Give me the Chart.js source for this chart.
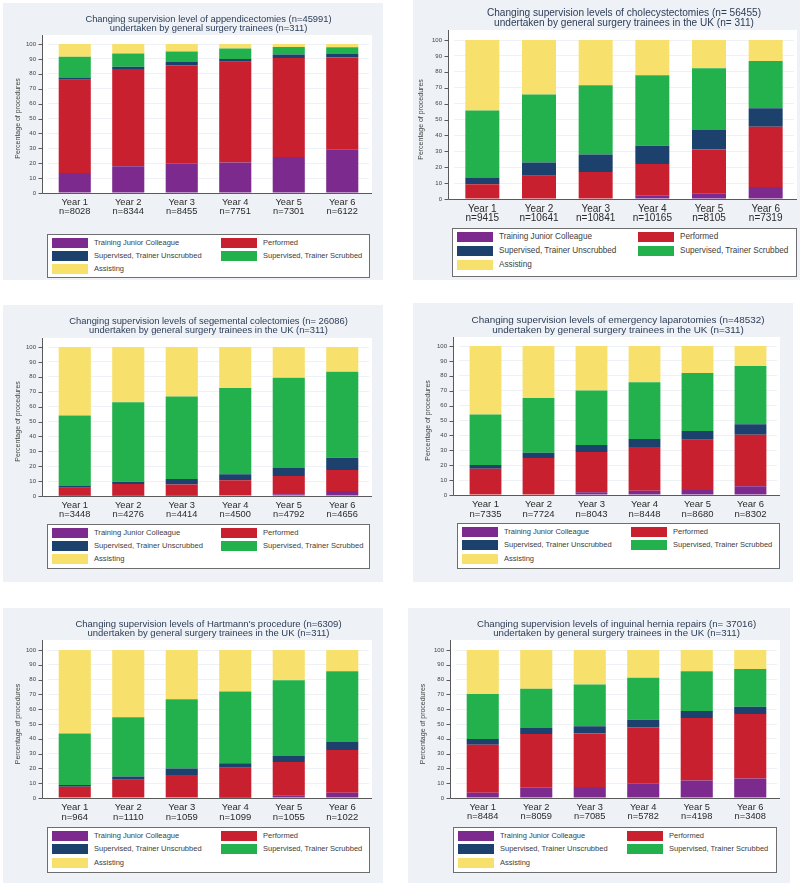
<!DOCTYPE html>
<html>
<head>
<meta charset="utf-8">
<script src="https://cdn.jsdelivr.net/npm/chart.js@4.4.1/dist/chart.umd.min.js"></script>
<style>
  body { margin: 0; width: 800px; height: 888px; background: #fff; position: relative; overflow: hidden;
         font-family: "Liberation Sans", Arial, sans-serif; }
  .panel, .plotbg, .legend, canvas { position: absolute; }
  .panel { background: #eef1f5; }
  .plotbg { background: #fff; }
  .legend { background: #fff; border: 1px solid #6e6e6e; box-sizing: border-box; }
  .sw { position: absolute; width: 36px; height: 10px; }
  .lt { position: absolute; color: #404040; line-height: 10px; white-space: nowrap; }
</style>
</head>
<body>
<script>
const seriesNames = ['Training Junior Colleague', 'Performed', 'Supervised, Trainer Unscrubbed',
                     'Supervised, Trainer Scrubbed', 'Assisting'];
const seriesColors = ['#7d2a8e', '#c9202f', '#1b416c', '#22b14c', '#f8e06c'];
const years = ['Year 1', 'Year 2', 'Year 3', 'Year 4', 'Year 5', 'Year 6'];

// each values table: one row per series (same order as seriesNames), one column per year, in %

// appendicectomies
const appTitle = ['Changing supervision level of appendicectomies (n=45991)',
                  'undertaken by general surgery trainees (n=311)'];
const appN = [8028, 8344, 8455, 7751, 7301, 6122];
const appValues = [
  [13.4, 17.9, 19.7, 20.4, 24.2, 29.3],
  [62.6, 65.3, 66.0, 67.7, 66.4, 61.7],
  [1.6, 1.6, 2.2, 1.8, 2.4, 2.3],
  [13.9, 8.9, 7.1, 7.0, 5.0, 4.5],
  [8.5, 6.3, 5.0, 3.1, 2.0, 2.2]
];

// cholecystectomies
const choTitle = ['Changing supervision levels of cholecystectomies (n= 56455)',
                  'undertaken by general surgery trainees in the UK (n= 311)'];
const choN = [9415, 10641, 10841, 10165, 8105, 7319];
const choValues = [
  [0, 0, 0, 2.1, 3.6, 7.5],
  [9.2, 14.7, 17.0, 19.9, 27.6, 38.0],
  [4.4, 8.3, 11.0, 11.5, 12.2, 11.5],
  [42.0, 42.8, 43.5, 44.3, 38.8, 29.8],
  [44.4, 34.2, 28.5, 22.2, 17.8, 13.2]
];

// segmental colectomies
const colTitle = ['Changing supervision levels of segemental colectomies (n= 26086)',
                  'undertaken by general surgery trainees in the UK (n=311)'];
const colN = [3448, 4276, 4414, 4500, 4792, 4656];
const colValues = [
  [0.2, 0.2, 0.2, 0.4, 1.1, 3.4],
  [5.4, 7.9, 7.6, 10.1, 12.4, 14.1],
  [1.1, 1.5, 3.6, 4.1, 5.3, 8.1],
  [47.3, 53.4, 55.4, 57.8, 60.6, 57.8],
  [46.0, 37.0, 33.2, 27.6, 20.6, 16.6]
];

// emergency laparotomies
const lapTitle = ['Changing supervision levels of emergency laparotomies (n=48532)',
                  'undertaken by general surgery trainees in the UK (n=311)'];
const lapN = [7335, 7724, 8043, 8448, 8680, 8302];
const lapValues = [
  [0, 0.4, 1.8, 2.9, 3.4, 5.8],
  [17.7, 24.4, 27.1, 29.3, 33.7, 34.7],
  [2.4, 3.6, 4.7, 5.4, 5.9, 6.9],
  [34.0, 36.7, 36.6, 38.0, 38.9, 39.2],
  [45.9, 34.9, 29.8, 24.4, 18.1, 13.4]
];

// Hartmann's procedure
const harTitle = ["Changing supervision levels of Hartmann's procedure (n=6309)",
                  'undertaken by general surgery trainees in the UK (n=311)'];
const harN = [964, 1110, 1059, 1099, 1055, 1022];
const harValues = [
  [0, 0, 0, 0.2, 1.6, 3.6],
  [7.6, 12.4, 15.5, 20.2, 22.7, 28.8],
  [1.2, 2.2, 4.5, 3.0, 4.0, 5.4],
  [34.8, 40.0, 46.7, 48.5, 51.3, 47.8],
  [56.4, 45.4, 33.3, 28.1, 20.4, 14.4]
];

// inguinal hernia repairs
const herTitle = ['Changing supervision levels of inguinal hernia repairs (n= 37016)',
                  'undertaken by general surgery trainees in the UK (n=311)'];
const herN = [8484, 8059, 7085, 5782, 4198, 3408];
const herValues = [
  [3.6, 7.0, 7.4, 9.6, 11.9, 13.2],
  [32.3, 36.3, 36.1, 38.2, 42.1, 43.5],
  [4.0, 4.0, 4.9, 5.1, 4.7, 5.0],
  [30.3, 26.5, 28.3, 28.3, 27.0, 25.5],
  [29.8, 26.2, 23.3, 18.8, 14.3, 12.8]
];

// page layout of the six panels (pixels); ts/xs/ls = title, x label and legend font sizes
const layouts = [
  { bg: [3, 3, 380, 277],   axisX: 42,  right: 372, whiteTop: 35,  y100: 44,  y0: 193, title1: 19,  yTitleX: 18,  legend: [47, 234, 323, 44],  ts: 9.4, xs: 9.3, ls: 7.5 },
  { bg: [413, 0, 387, 280], axisX: 448, right: 797, whiteTop: 30,  y100: 40,  y0: 199, title1: 13,  yTitleX: 421, legend: [452, 228, 345, 49], ts: 10.1, xs: 10, ls: 8.2 },
  { bg: [3, 305, 380, 277], axisX: 42,  right: 372, whiteTop: 338, y100: 347, y0: 496, title1: 321, yTitleX: 18,  legend: [47, 524, 323, 45],  ts: 9.4, xs: 9.3, ls: 7.6 },
  { bg: [413, 303, 380, 279], axisX: 453, right: 780, whiteTop: 337, y100: 346, y0: 495, title1: 320, yTitleX: 428, legend: [457, 523, 323, 46], ts: 9.9, xs: 9.5, ls: 7.5 },
  { bg: [3, 608, 380, 275], axisX: 42,  right: 372, whiteTop: 640, y100: 650, y0: 798, title1: 624, yTitleX: 18,  legend: [47, 827, 323, 46],  ts: 9.5, xs: 9.5, ls: 7.5 },
  { bg: [408, 608, 382, 275], axisX: 450, right: 780, whiteTop: 640, y100: 650, y0: 798, title1: 624, yTitleX: 423, legend: [453, 827, 324, 46], ts: 9.7, xs: 9.3, ls: 7.5 }
];

const FONT = 'Liberation Sans';
const GAP = 6;       // space between the y axis line and the first bar slot

function box(cls, x, y, w, h) {
  const d = document.createElement('div');
  d.className = cls;
  d.style.left = x + 'px'; d.style.top = y + 'px';
  d.style.width = w + 'px'; d.style.height = h + 'px';
  document.body.appendChild(d);
  return d;
}

// y axis line + ticks drawn a little left of the plot area, as in Stata
const axisLines = {
  id: 'axisLines',
  afterDraw(chart, args, opts) {
    const { ctx, chartArea, scales: { y } } = chart;
    const x = Math.round(chartArea.left - GAP) + 0.5;
    const yb = Math.round(chartArea.bottom) + 0.5;
    ctx.save();
    ctx.strokeStyle = '#5a5a5a';
    ctx.lineWidth = 1;
    ctx.beginPath();
    ctx.moveTo(x, opts.top);
    ctx.lineTo(x, yb);
    ctx.lineTo(chartArea.right + opts.extra, yb);
    y.ticks.forEach(t => {
      const py = Math.round(y.getPixelForValue(t.value)) + 0.5;
      ctx.moveTo(x - 4, py);
      ctx.lineTo(x, py);
    });
    ctx.stroke();
    ctx.restore();
  }
};

function makePanel(g, title, nArr, values) {
  const [bx, by, bw, bh] = g.bg;
  box('panel', bx, by, bw, bh);
  box('plotbg', g.axisX, g.whiteTop, g.right - g.axisX, g.y0 - g.whiteTop);

  const ch = g.legend[1] - by - 2;
  const cv = document.createElement('canvas');
  cv.width = bw; cv.height = ch;
  cv.style.left = bx + 'px'; cv.style.top = by + 'px';
  document.body.appendChild(cv);

  const padTop = g.title1 - by - g.ts / 2;
  const padBottom = (g.y100 - by) - padTop - 2 * g.ts;
  const rightPad = bx + bw - g.right + 3;

  new Chart(cv, {
    type: 'bar',
    data: {
      labels: years.map((y, i) => [y, 'n=' + nArr[i]]),
      datasets: seriesNames.map((name, k) => ({
        label: name,
        data: values[k],
        backgroundColor: seriesColors[k],
        borderWidth: 0,
        barPercentage: 0.6,
        categoryPercentage: 1
      }))
    },
    options: {
      responsive: false,
      animation: false,
      layout: { padding: { left: 0, right: rightPad, top: 0, bottom: 0 } },
      plugins: {
        legend: { display: false },
        tooltip: { enabled: false },
        title: {
          display: true, fullSize: false, text: title, color: '#2c3d57',
          font: { family: FONT, size: g.ts, weight: 'normal', lineHeight: 1 },
          padding: { top: padTop, bottom: padBottom }
        },
        axisLines: { top: g.whiteTop - by, extra: 3 }
      },
      scales: {
        x: {
          stacked: true,
          grid: { display: false, drawTicks: false },
          border: { display: false },
          ticks: { color: '#2a2a2a', padding: 5, font: { family: FONT, size: g.xs, lineHeight: 0.98 } },
          afterFit: s => { s.height = ch - (g.y0 - by); }
        },
        y: {
          stacked: true, min: 0, max: 100,
          border: { display: false },
          grid: { color: '#eef1f5', drawTicks: false },
          ticks: { stepSize: 10, color: '#444', padding: GAP + 6, font: { family: FONT, size: 6 } },
          title: {
            display: true, text: 'Percentage of procedures', color: '#444',
            font: { family: FONT, size: 7, lineHeight: 1.2 },
            padding: { top: g.yTitleX - bx - 4.2, bottom: 0 }
          },
          afterFit: s => { s.width = g.axisX - bx + GAP; }
        }
      }
    },
    plugins: [axisLines]
  });

  const [lx, ly, lw, lh] = g.legend;
  const lg = box('legend', lx, ly, lw, lh);
  const pitch = lh * 0.29;
  seriesNames.forEach((name, k) => {
    const col = k % 2, row = Math.floor(k / 2);
    const x0 = col === 0 ? 4 : Math.round(lw * 0.535);
    const y0 = 3 + Math.round(row * pitch);
    const sw = document.createElement('div');
    sw.className = 'sw';
    sw.style.left = x0 + 'px'; sw.style.top = y0 + 'px';
    sw.style.background = seriesColors[k];
    lg.appendChild(sw);
    const t = document.createElement('div');
    t.className = 'lt';
    t.style.left = (x0 + 42) + 'px'; t.style.top = y0 + 'px';
    t.style.fontSize = g.ls + 'px';
    t.textContent = name;
    lg.appendChild(t);
  });
}

makePanel(layouts[0], appTitle, appN, appValues);
makePanel(layouts[1], choTitle, choN, choValues);
makePanel(layouts[2], colTitle, colN, colValues);
makePanel(layouts[3], lapTitle, lapN, lapValues);
makePanel(layouts[4], harTitle, harN, harValues);
makePanel(layouts[5], herTitle, herN, herValues);
</script>
</body>
</html>
